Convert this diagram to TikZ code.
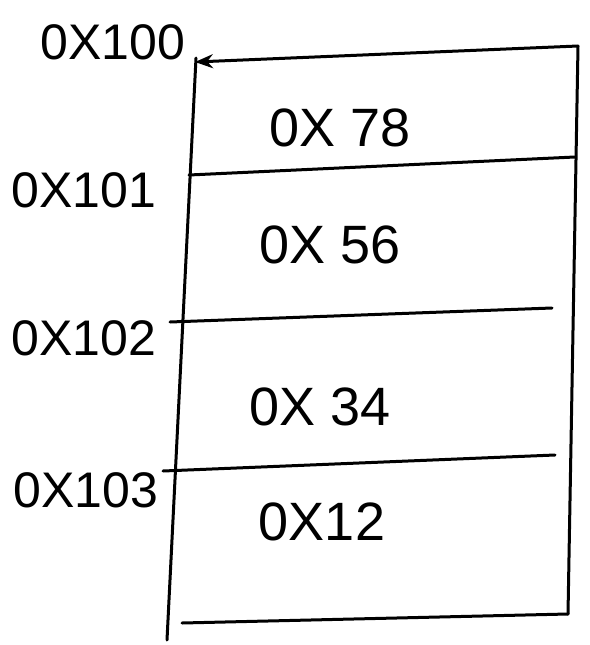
\documentclass[tikz,border=0pt]{standalone}
\usepackage{fontspec}
\setmainfont{Liberation Sans}
\usetikzlibrary{arrows.meta}
\begin{document}
\begin{tikzpicture}[x=1pt,y=-1pt,
  edge/.style={line width=3pt,line cap=round},
  addr/.style={font=\fontsize{50}{50}\selectfont,inner sep=0pt},
  val/.style={font=\fontsize{54}{54}\selectfont,inner sep=0pt}]
\useasboundingbox (0,0) rectangle (589,645);
% corners and edge points
\coordinate (tl) at (195,62);
\coordinate (tr) at (578,46);
\coordinate (ltop) at (196,58);
\coordinate (lbot) at (167,640);
\coordinate (rbot) at (568,614);
\coordinate (bl) at (182,623);
\coordinate (d1l) at (189,175);
\coordinate (d1r) at (575,157);
\coordinate (d2l) at (170,322);
\coordinate (d2r) at (552,308);
\coordinate (d3l) at (163,471);
\coordinate (d3r) at (555,455);
% box
\draw[edge,-{Stealth[length=18pt,width=14pt]}] (tr) -- (tl);
\draw[edge] (ltop) -- (lbot);
\draw[edge] (tr) -- (rbot);
\draw[edge] (bl) -- (rbot);
\draw[edge] (d1l) -- (d1r);
\draw[edge] (d2l) -- (d2r);
\draw[edge] (d3l) -- (d3r);
% labels
\node[addr] (a0) at (113,42) {0X100};
\node[addr] (a1) at (84,190) {0X101};
\node[addr] (a2) at (84,338) {0X102};
\node[addr] (a3) at (86,490) {0X103};
\node[val] (v0) at (340,128) {0X 78};
\node[val] (v1) at (330,245) {0X 56};
\node[val] (v2) at (320,407) {0X 34};
\node[val] (v3) at (322,522) {0X12};
\end{tikzpicture}
\end{document}
